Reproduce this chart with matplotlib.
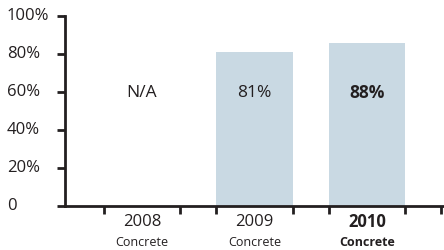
import matplotlib
matplotlib.use("Agg")
import matplotlib.pyplot as plt
import matplotlib.transforms as mtransforms

years = ["2008", "2009", "2010"]
sublabels = ["Concrete", "Concrete", "Concrete"]
values = [0, 81, 86]
bar_labels = ["N/A", "81%", "88%"]
bold = [False, False, True]
yticks = [0, 20, 40, 60, 80, 100]
ytick_labels = ["0", "20%", "40%", "60%", "80%", "100%"]

plt.rcParams['font.family'] = ['Open Sans', 'DejaVu Sans']
dark = '#231f20'
W, H = 444, 250
fig = plt.figure(figsize=(W / 100, H / 100), dpi=100)
ax = fig.add_axes([65 / W, 44 / H, 1 - 65 / W, (206 - 16) / H])

bw = 0.676
x = list(range(len(years)))
ax.bar(x, values, width=bw, color='#c9d9e3', zorder=1)
ax.set_xlim(-0.684, 2.684)
ax.set_ylim(0, 100)

for s in ['top', 'right']:
    ax.spines[s].set_visible(False)
for s in ['left', 'bottom']:
    ax.spines[s].set_linewidth(2)
    ax.spines[s].set_color(dark)
    ax.spines[s].set_zorder(3)

xt = []
for xi in x:
    xt += [xi - bw / 2, xi + bw / 2]
xt.append(2.66)
ax.set_xticks(xt)
ax.set_xticklabels([])
ax.tick_params(axis='x', direction='out', length=6, width=2, color=dark)
ax.set_yticks(yticks)
ax.set_yticklabels([])
ax.tick_params(axis='y', direction='out', length=6, width=2, color=dark)

trans = mtransforms.blended_transform_factory(fig.transFigure, ax.transData)
for v, lab in zip(yticks, ytick_labels):
    ax.text(7 / W, v, lab, transform=trans, ha='left', va='center',
            fontsize=12, color=dark)

trans2 = mtransforms.blended_transform_factory(ax.transData, fig.transFigure)
for xi, yr, sub, b in zip(x, years, sublabels, bold):
    fw = 'bold' if b else 'normal'
    ax.text(xi, 1 - 222 / H, yr, transform=trans2, ha='center', va='center',
            fontsize=12, color=dark, fontweight=fw)
    ax.text(xi, 1 - 242 / H, sub, transform=trans2, ha='center', va='center',
            fontsize=9, color=dark, fontweight=fw)

for xi, lab, b in zip(x, bar_labels, bold):
    ax.text(xi, 59.5, lab, ha='center', va='center', fontsize=12.5,
            color=dark, fontweight='bold' if b else 'normal', zorder=4)

fig.savefig('out.png', dpi=100)
